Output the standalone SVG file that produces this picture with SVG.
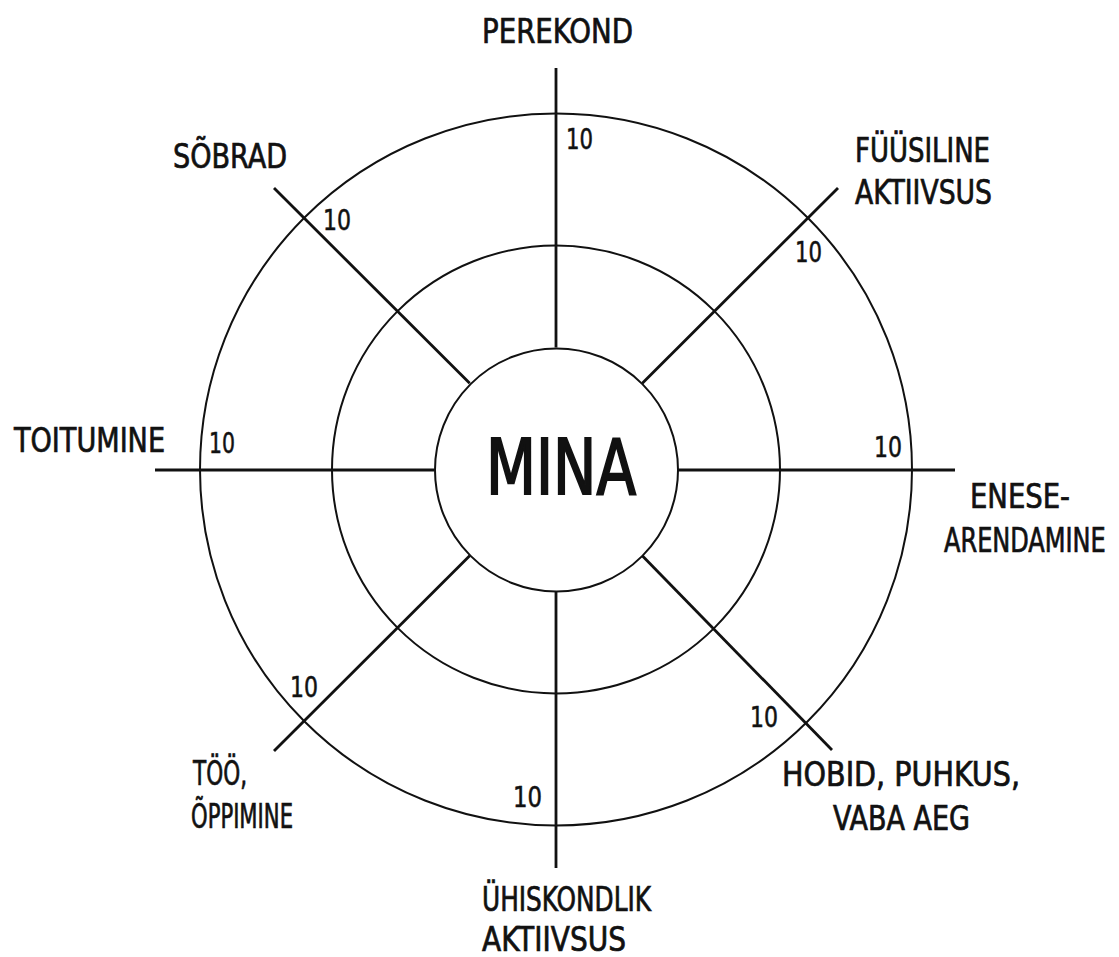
<svg xmlns="http://www.w3.org/2000/svg" width="1119" height="957" viewBox="0 0 1119 957">
<style>
.c{fill:none;stroke:#111;stroke-width:2}
.s{stroke:#111;stroke-width:2.8;stroke-linecap:butt}
.t{font-family:"DejaVu Sans Condensed","DejaVu Sans",sans-serif;font-size:33px;fill:#111;stroke:#111;stroke-width:0.7}
.n{font-family:"DejaVu Sans Condensed","DejaVu Sans",sans-serif;font-size:28px;fill:#111;stroke:#111;stroke-width:0.5}
.m{font-family:"DejaVu Sans Condensed","DejaVu Sans",sans-serif;font-size:77px;fill:#111;stroke:#111;stroke-width:2}
</style>
<rect width="1119" height="957" fill="#fff"/>
<g id="rings">
<circle class="c" cx="556" cy="469.5" r="356"/>
<circle class="c" cx="556" cy="469.5" r="224"/>
</g>
<g id="connectors">
<line class="s" x1="556" y1="68" x2="556" y2="347.5"/>
<line class="s" x1="556" y1="591.5" x2="556" y2="868"/>
<line class="s" x1="155" y1="470" x2="434" y2="470"/>
<line class="s" x1="678" y1="470" x2="955" y2="470"/>
<line class="s" x1="469.7" y1="383.2" x2="274" y2="188"/>
<line class="s" x1="642.3" y1="383.2" x2="838" y2="188"/>
<line class="s" x1="469.7" y1="555.8" x2="274" y2="751"/>
<line class="s" x1="642.3" y1="555.8" x2="832" y2="750"/>
</g>
<g id="mina">
<circle class="c" cx="556.5" cy="470" r="121.5"/>
<text class="m" x="486" y="494" textLength="150" lengthAdjust="spacingAndGlyphs">MINA</text>
</g>
<g id="perekond">
<text class="t" x="482" y="43" textLength="151" lengthAdjust="spacingAndGlyphs">PEREKOND</text>
<text class="n" x="566" y="149" textLength="27" lengthAdjust="spacingAndGlyphs">10</text>
</g>
<g id="sobrad">
<text class="t" x="173" y="168" textLength="114" lengthAdjust="spacingAndGlyphs">SÕBRAD</text>
<text class="n" x="323" y="230" textLength="28" lengthAdjust="spacingAndGlyphs">10</text>
</g>
<g id="fuusiline">
<text class="t" x="855" y="162" textLength="135" lengthAdjust="spacingAndGlyphs">FÜÜSILINE</text>
<text class="t" x="855" y="204" textLength="137" lengthAdjust="spacingAndGlyphs">AKTIIVSUS</text>
<text class="n" x="795" y="262" textLength="27" lengthAdjust="spacingAndGlyphs">10</text>
</g>
<g id="toitumine">
<text class="t" x="14" y="452" textLength="151" lengthAdjust="spacingAndGlyphs">TOITUMINE</text>
<text class="n" x="209" y="453" textLength="26" lengthAdjust="spacingAndGlyphs">10</text>
</g>
<g id="enesearendamine">
<text class="t" x="970" y="508" textLength="100" lengthAdjust="spacingAndGlyphs">ENESE-</text>
<text class="t" transform="translate(944,552) scale(0.81,1)" x="0" y="0">ARENDAMINE</text>
<text class="n" x="874" y="457" textLength="28" lengthAdjust="spacingAndGlyphs">10</text>
</g>
<g id="too">
<text class="t" x="193" y="785" textLength="54" lengthAdjust="spacingAndGlyphs">TÖÖ,</text>
<text class="t" x="191" y="828" textLength="102" lengthAdjust="spacingAndGlyphs">ÕPPIMINE</text>
<text class="n" x="290" y="697" textLength="28" lengthAdjust="spacingAndGlyphs">10</text>
</g>
<g id="hobid">
<text class="t" x="782" y="786" textLength="238" lengthAdjust="spacingAndGlyphs">HOBID, PUHKUS,</text>
<text class="t" x="833" y="830" textLength="137" lengthAdjust="spacingAndGlyphs">VABA AEG</text>
<text class="n" x="750" y="727" textLength="28" lengthAdjust="spacingAndGlyphs">10</text>
</g>
<g id="uhiskondlik">
<text class="t" x="482" y="911" textLength="169" lengthAdjust="spacingAndGlyphs">ÜHISKONDLIK</text>
<text class="t" x="482" y="951" textLength="144" lengthAdjust="spacingAndGlyphs">AKTIIVSUS</text>
<text class="n" x="513" y="807" textLength="29" lengthAdjust="spacingAndGlyphs">10</text>
</g>
</svg>
